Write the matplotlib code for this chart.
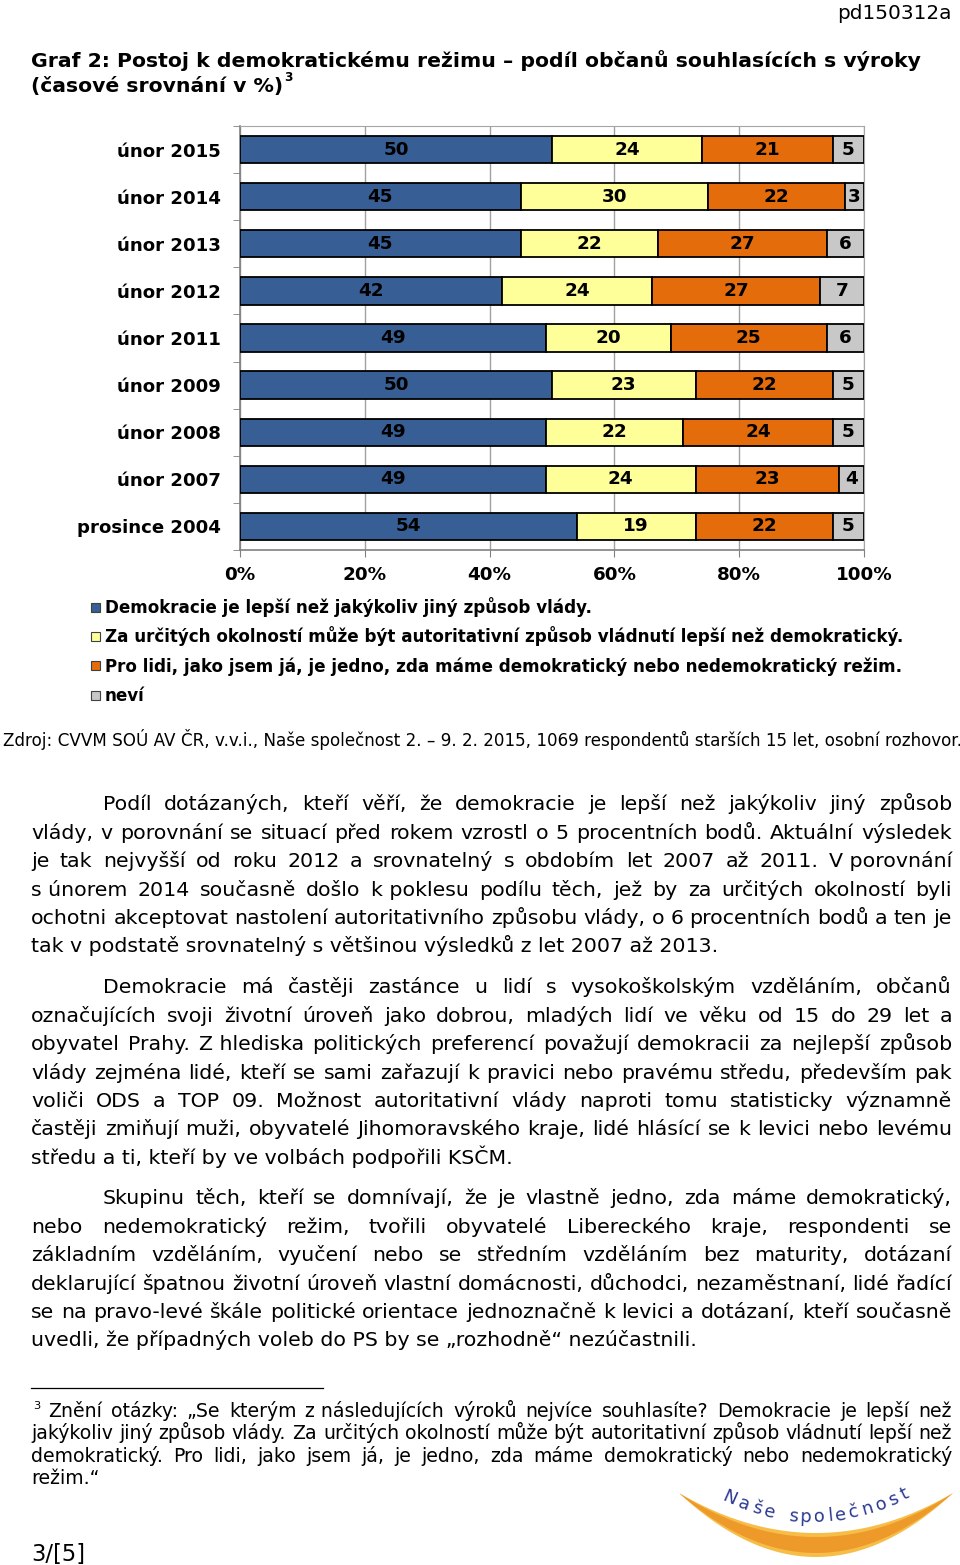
"""Graf 2 – Postoj k demokratickému režimu (CVVM, Naše společnost 02/2015).

Whole report page: stacked bar chart, legend, source line, three justified
paragraphs, footnote and the Naše společnost logo.
Output -> out.png (960 x 1565 px)
"""
import matplotlib
matplotlib.use("Agg")
import matplotlib.pyplot as plt
import numpy as np
from matplotlib.font_manager import FontProperties
from matplotlib.patches import Polygon, Rectangle

W, H, DPI = 960, 1565, 100
FONT = "DejaVu Sans"

PERIODS = ["únor 2015", "únor 2014", "únor 2013", "únor 2012", "únor 2011",
           "únor 2009", "únor 2008", "únor 2007", "prosince 2004"]
DEMOKRACIE = [50, 45, 45, 42, 49, 50, 49, 49, 54]
AUTORITA = [24, 30, 22, 24, 20, 23, 22, 24, 19]
JEDNO = [21, 22, 27, 27, 25, 22, 24, 23, 22]
NEVI = [5, 3, 6, 7, 6, 5, 5, 4, 5]
SERIES = ["Demokracie je lepší než jakýkoliv jiný způsob vlády.",
          "Za určitých okolností může být autoritativní způsob vládnutí lepší než demokratický.",
          "Pro lidi, jako jsem já, je jedno, zda máme demokratický nebo nedemokratický režim.",
          "neví"]
XTICKS = [0, 20, 40, 60, 80, 100]
COLORS = ["#375F96", "#FFFF99", "#E46C0A", "#C8C8C8"]

TITLE = ["Graf 2: Postoj k demokratickému režimu – podíl občanů souhlasících s výroky",
         "(časové srovnání v %)"]
SOURCE = ("Zdroj: CVVM SOÚ AV ČR, v.v.i., Naše společnost 2. – 9. 2. 2015, "
          "1069 respondentů starších 15 let, osobní rozhovor.")

# line breaks as in the printed report (\u00a0 = non-breaking space)
PARA_1 = [
    "Podíl dotázaných, kteří věří, že demokracie je lepší než jakýkoliv jiný způsob",
    "vlády, v porovnání se situací před rokem vzrostl o 5 procentních bodů. Aktuální výsledek",
    "je tak nejvyšší od roku 2012 a srovnatelný s obdobím let 2007 až 2011. V\u00a0porovnání",
    "s\u00a0únorem 2014 současně došlo k\u00a0poklesu podílu těch, jež by za určitých okolností byli",
    "ochotni akceptovat nastolení autoritativního způsobu vlády, o 6 procentních bodů a ten je",
    "tak v podstatě srovnatelný s většinou výsledků z let 2007 až 2013.",
]
PARA_2 = [
    "Demokracie má častěji zastánce u lidí s vysokoškolským vzděláním, občanů",
    "označujících svoji životní úroveň jako dobrou, mladých lidí ve věku od 15 do 29 let a",
    "obyvatel Prahy. Z\u00a0hlediska politických preferencí považují demokracii za nejlepší způsob",
    "vlády zejména lidé, kteří se sami zařazují k pravici nebo pravému středu, především pak",
    "voliči ODS a TOP 09. Možnost autoritativní vlády naproti tomu statisticky významně",
    "častěji zmiňují muži, obyvatelé Jihomoravského kraje, lidé hlásící se k levici nebo levému",
    "středu a ti, kteří by ve volbách podpořili KSČM.",
]
PARA_3 = [
    "Skupinu těch, kteří se domnívají, že je vlastně jedno, zda máme demokratický,",
    "nebo nedemokratický režim, tvořili obyvatelé Libereckého kraje, respondenti se",
    "základním vzděláním, vyučení nebo se středním vzděláním bez maturity, dotázaní",
    "deklarující špatnou životní úroveň vlastní domácnosti, důchodci, nezaměstnaní, lidé řadící",
    "se na pravo-levé škále politické orientace jednoznačně k levici a dotázaní, kteří současně",
    "uvedli, že případných voleb do PS by se „rozhodně“ nezúčastnili.",
]
FOOTNOTE = [
    "Znění otázky: „Se kterým z\u00a0následujících výroků nejvíce souhlasíte? Demokracie je lepší než",
    "jakýkoliv jiný způsob vlády. Za určitých okolností může být autoritativní způsob vládnutí lepší než",
    "demokratický. Pro lidi, jako jsem já, je jedno, zda máme demokratický nebo nedemokratický",
    "režim.“",
]
LOGO = "Naše společnost"

LEFT, RIGHT, INDENT = 31, 952, 103
LINE = 28.4

fig = plt.figure(figsize=(W / DPI, H / DPI), dpi=DPI)
page = fig.add_axes([0, 0, 1, 1])
page.set_xlim(0, W)
page.set_ylim(H, 0)
page.axis("off")
rend = fig.canvas.get_renderer()


def fp(size, weight="normal"):
    return FontProperties(family=FONT, size=size, weight=weight)


def text_w(s, prop):
    return rend.get_text_width_height_descent(s, prop, ismath=False)[0]


def fit(s, px, weight="normal"):
    # point size at which s is px pixels wide
    return 10 * px / text_w(s, fp(10, weight))


def put(x, yc, s, prop, ha="left", **kw):
    # yc = visual middle of the text line, in page pixels
    page.text(x, yc + 0.36 * prop.get_size() * DPI / 72, s, fontproperties=prop,
              ha=ha, va="baseline", **kw)


def justify(line, x0, x1, yc, prop):
    words = line.split(" ")
    widths = [text_w(w, prop) for w in words]
    gap = (x1 - x0 - sum(widths)) / max(len(words) - 1, 1)
    x = x0
    for w, wd in zip(words, widths):
        put(x, yc, w, prop)
        x += wd + gap


def paragraph(lines, y0, prop, first_x=INDENT, step=LINE):
    for i, line in enumerate(lines):
        x0 = first_x if i == 0 else LEFT
        if i == len(lines) - 1:
            put(x0, y0 + i * step, line, prop)
        else:
            justify(line, x0, RIGHT, y0 + i * step, prop)


# ---- header + title
put(952, 12, "pd150312a", fp(fit("pd150312a", 114)), ha="right")
tprop = fp(fit(TITLE[0], 886, "bold"), "bold")
put(LEFT, 60, TITLE[0], tprop)
put(LEFT, 85, TITLE[1], tprop)
put(LEFT + text_w(TITLE[1], tprop) + 1, 77, "3", fp(tprop.get_size() * 0.6, "bold"))

# ---- chart
ax = fig.add_axes([240 / W, 1 - 550 / H, 624 / W, 424 / H])
y = np.arange(len(PERIODS))
left = np.zeros(len(PERIODS))
bar_prop = fp(fit("100%", 57, "bold"), "bold")
for vals, color in zip([DEMOKRACIE, AUTORITA, JEDNO, NEVI], COLORS):
    bars = ax.barh(y, vals, left=left, height=0.58, color=color,
                   edgecolor="black", linewidth=1.3, zorder=3)
    ax.bar_label(bars, labels=[str(v) for v in vals], label_type="center",
                 fontproperties=bar_prop)
    left += np.array(vals)

ax.set_xlim(0, 100)
ax.set_ylim(len(PERIODS) - 0.5, -0.5)
ax.set_xticks(XTICKS, [f"{v}%" for v in XTICKS])
ax.set_yticks(y, PERIODS)
ax.set_yticks(np.arange(-0.5, len(PERIODS)), minor=True)
for lab in ax.get_xticklabels():
    lab.set_fontproperties(bar_prop)
cat_prop = fp(fit("prosince 2004", 144, "bold"), "bold")
for lab in ax.get_yticklabels():
    lab.set_fontproperties(cat_prop)
ax.tick_params(axis="x", length=5, color="#808080", pad=6.5)
ax.tick_params(axis="y", which="major", length=0, pad=13.7)
ax.tick_params(axis="y", which="minor", length=5, color="#808080")
ax.xaxis.grid(True, color="#A0A0A0", linewidth=1, zorder=0)
ax.set_axisbelow(True)
for side in ["left", "bottom"]:
    ax.spines[side].set_color("#808080")
    ax.spines[side].set_linewidth(1.2)
for side in ["top", "right"]:
    ax.spines[side].set_color("#A6A6A6")

# ---- legend
leg_prop = fp(fit(SERIES[1], 798, "bold"), "bold")
for i, (name, color) in enumerate(zip(SERIES, COLORS)):
    yc = 607 + i * 29.4
    page.add_patch(Rectangle((90.5, yc - 4.5), 9, 9, facecolor=color,
                             edgecolor="#404040", linewidth=0.8))
    put(105, yc, name, leg_prop)

# ---- source
put(3, 740, SOURCE, fp(fit(SOURCE, 955)))

# ---- body text
body = fp(fit(PARA_1[-1], 685))
paragraph(PARA_1, 803, body)
paragraph(PARA_2, 986, body)
paragraph(PARA_3, 1197, body)

# ---- footnote
page.plot([LEFT, 323], [1388, 1388], color="black", linewidth=0.9)
fn = fp(fit(FOOTNOTE[1], 921))
put(33, 1405, "3", fp(fn.get_size() * 0.6))
paragraph(FOOTNOTE, 1410, fn, first_x=48, step=22.4)

# ---- page number
put(LEFT, 1553, "3/[5]", fp(fit("3/[5]", 54)))

# ---- logo: orange crescent with lighter rim, letters along the curve
xs = np.linspace(680, 953, 120)
t = (xs - 816) / 137
upper = 1493 + 40 * (1 - t ** 2)
lower = 1493 + 64 * (1 - t ** 2)
page.add_patch(Polygon(np.column_stack([np.r_[xs, xs[::-1]], np.r_[upper, lower[::-1]]]),
                       closed=True, facecolor="#F6BE48", edgecolor="none"))
inner_hi = 1493 + 44 * (1 - t ** 2)
inner_lo = 1493 + 60 * (1 - t ** 2)
page.add_patch(Polygon(np.column_stack([np.r_[xs, xs[::-1]], np.r_[inner_hi, inner_lo[::-1]]]),
                       closed=True, facecolor="#EE9A2B", edgecolor="none"))
logo_prop = fp(13)
adv = np.array([text_w(c, logo_prop) if c != " " else 8 for c in LOGO]) + 4
centers = np.cumsum(adv) - adv / 2
centers = 727 + (centers - centers[0]) / (centers[-1] - centers[0]) * (907 - 727)
for c, cx in zip(LOGO, centers):
    if c == " ":
        continue
    base = 1500 + 22 * (1 - ((cx - 812) / 92) ** 2)
    slope = -44 * (cx - 812) / 92 ** 2
    page.text(cx, base, c, fontproperties=logo_prop, color="#2B3990", ha="center",
              va="baseline", rotation=-np.degrees(np.arctan(slope)), rotation_mode="anchor")

fig.savefig("out.png", dpi=DPI)
